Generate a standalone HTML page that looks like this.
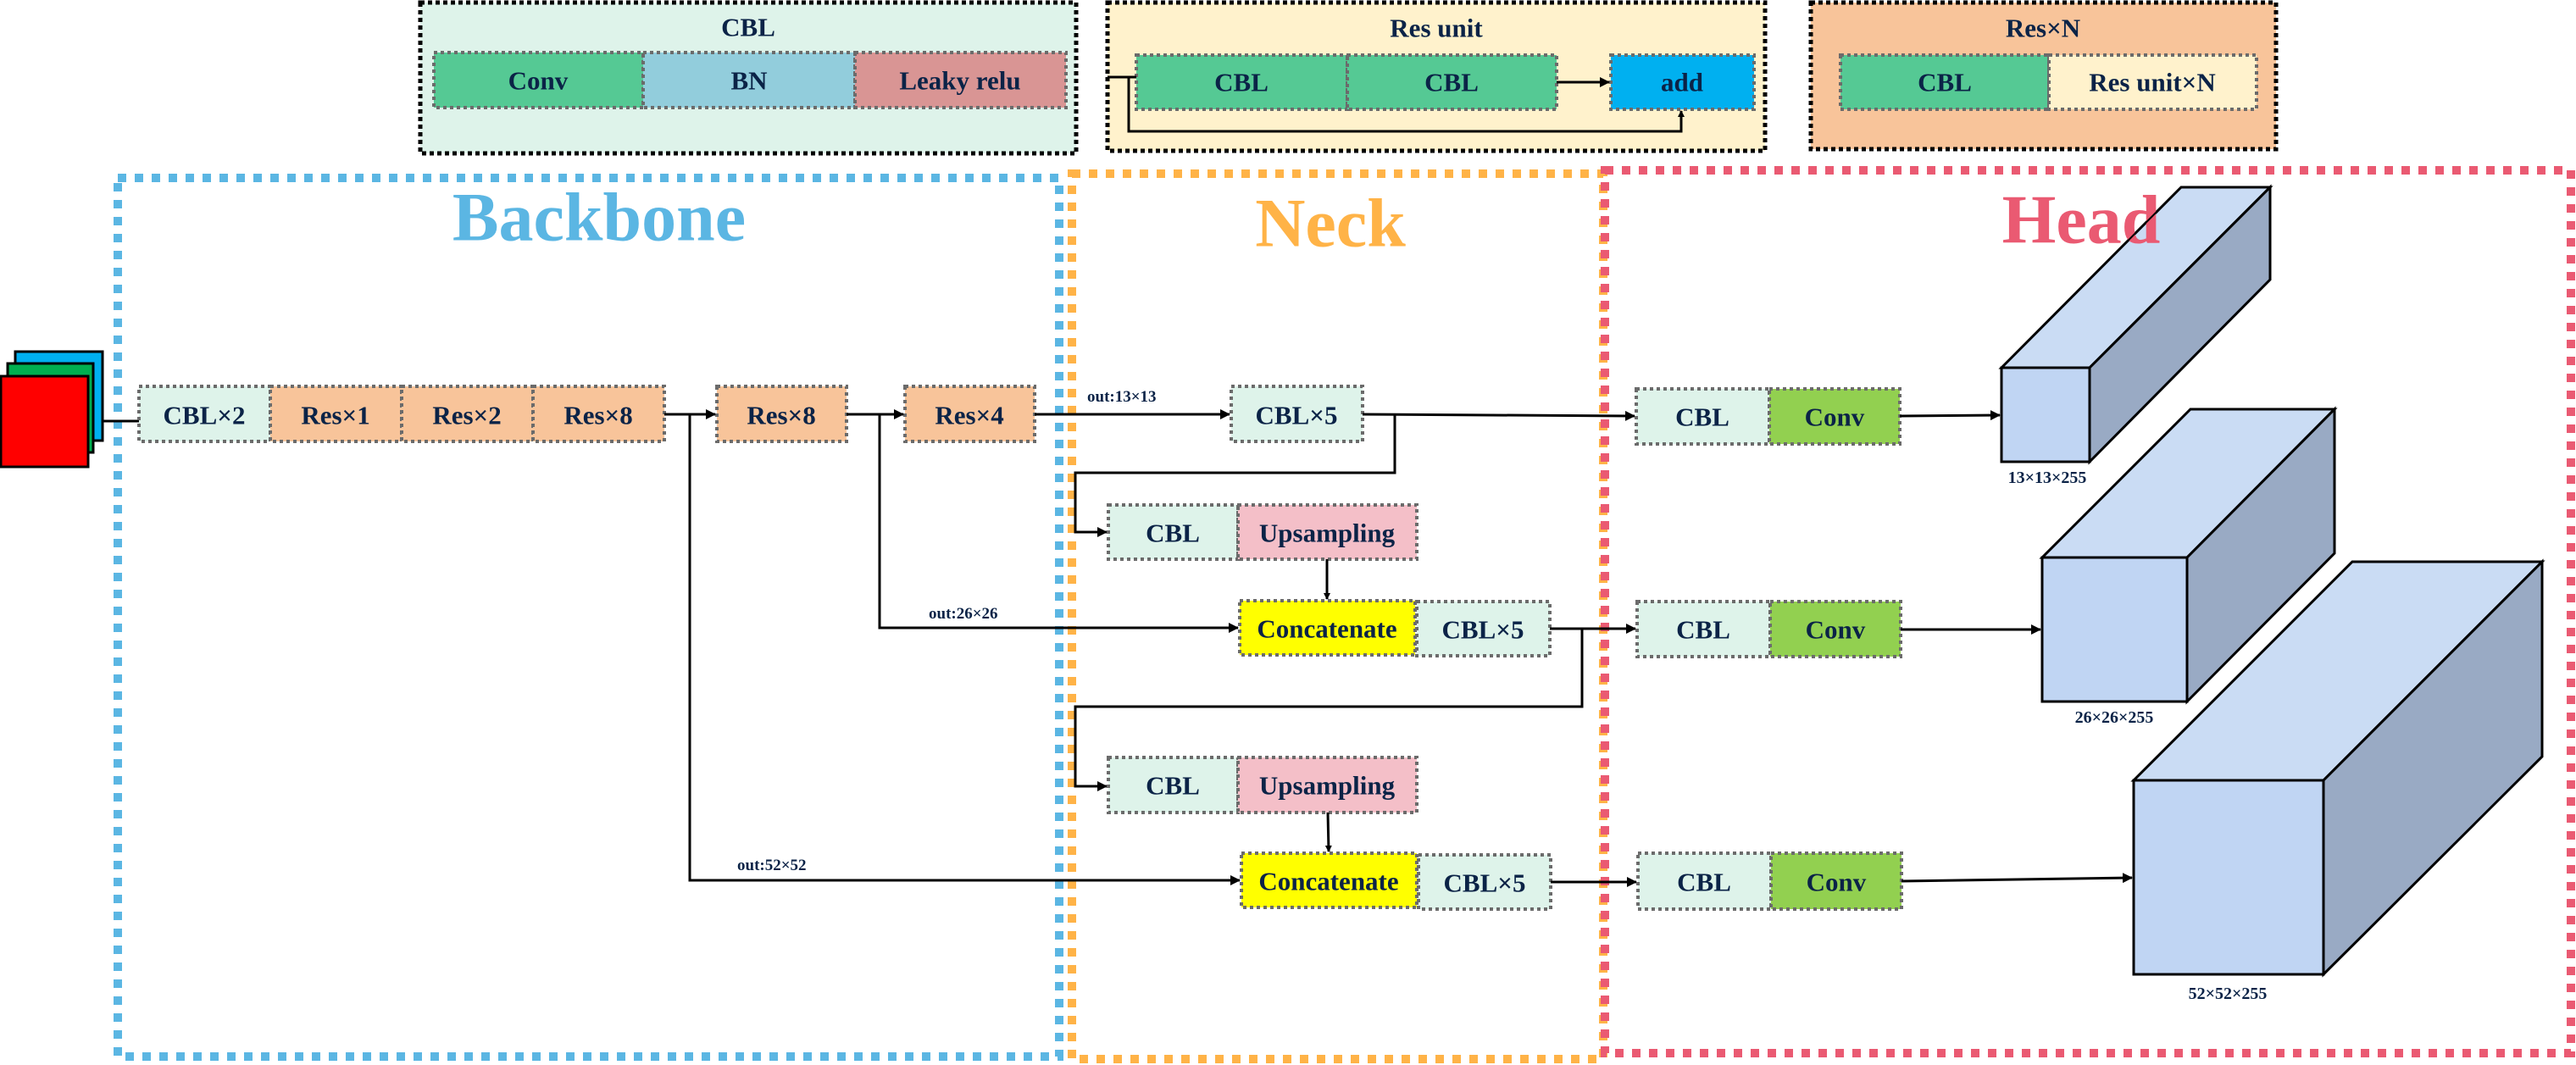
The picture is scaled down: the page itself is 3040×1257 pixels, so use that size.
<!DOCTYPE html>
<html><head><meta charset="utf-8"><style>html,body{margin:0;padding:0;background:#fff}svg{display:block}</style></head>
<body>
<svg xmlns="http://www.w3.org/2000/svg" width="3040" height="1257" viewBox="0 0 3040 1257" font-family="'Liberation Serif',serif" font-weight="bold">
<defs>
<marker id="a" markerWidth="8" markerHeight="8" refX="7" refY="4" orient="auto" markerUnits="userSpaceOnUse"><path d="M0,0 L8,4 L0,8 z" fill="#000"/></marker>
<marker id="b" markerWidth="12" markerHeight="12" refX="11" refY="6" orient="auto" markerUnits="userSpaceOnUse"><path d="M0,0 L12,6 L0,12 z" fill="#000"/></marker>
</defs>
<style>
.bx{stroke:#6b6b6b;stroke-width:4;stroke-dasharray:4 4}
.t{fill:#0b2347;text-anchor:middle;dominant-baseline:central;font-size:31px}
.s{fill:#0b2347;font-size:19px}
.ln{stroke:#000;stroke-width:3;fill:none}
.lg{stroke:#000;stroke-width:5;stroke-dasharray:5 4}
</style>

<rect x="496" y="3" width="774" height="178" fill="#def3ea" class="lg"/>
<text x="883" y="32" class="t">CBL</text>
<rect x="512" y="62" width="247" height="65" fill="#55c994" class="bx"/><text x="635" y="95" class="t">Conv</text>
<rect x="759" y="62" width="250" height="65" fill="#92cddc" class="bx"/><text x="884" y="95" class="t">BN</text>
<rect x="1009" y="62" width="249" height="65" fill="#d99594" class="bx"/><text x="1133" y="95" class="t">Leaky relu</text>

<rect x="1307" y="3" width="776" height="175" fill="#fff2cc" class="lg"/>
<text x="1695" y="33" class="t">Res unit</text>
<rect x="1341" y="65" width="249" height="64" fill="#55c994" class="bx"/><text x="1465" y="97" class="t">CBL</text>
<rect x="1590" y="65" width="247" height="64" fill="#55c994" class="bx"/><text x="1713" y="97" class="t">CBL</text>
<rect x="1901" y="65" width="169" height="64" fill="#00b0f0" class="bx"/><text x="1985" y="97" class="t">add</text>
<path d="M1307,91 H1341 M1332,91 V155 H1984 V131" class="ln" marker-end="url(#a)"/>
<path d="M1837,97 H1899" class="ln" stroke-width="4" marker-end="url(#b)"/>

<rect x="2137" y="3" width="549" height="173" fill="#f8c49a" class="lg"/>
<text x="2411" y="33" class="t">Res×N</text>
<rect x="2172" y="65" width="246" height="64" fill="#55c994" class="bx"/><text x="2295" y="97" class="t">CBL</text>
<rect x="2418" y="65" width="245" height="64" fill="#fff2cc" class="bx"/><text x="2540" y="97" class="t">Res unit×N</text>

<rect x="139" y="210" width="1111" height="1037" fill="none" stroke="#5bb6e3" stroke-width="10" stroke-dasharray="10 10"/>
<rect x="1265" y="205" width="627" height="1045" fill="none" stroke="#ffb347" stroke-width="10" stroke-dasharray="10 10"/>
<rect x="1894" y="201" width="1140" height="1042" fill="none" stroke="#ea5a72" stroke-width="10" stroke-dasharray="10 10"/>
<text x="707" y="256" class="t" style="font-size:82px;fill:#5bb6e3">Backbone</text>
<text x="1570" y="263" class="t" style="font-size:82px;fill:#ffb347">Neck</text>

<rect x="18" y="415" width="103" height="105" fill="#00b0f0" stroke="#000" stroke-width="3"/>
<rect x="9" y="429" width="101" height="105" fill="#00b050" stroke="#000" stroke-width="3"/>
<rect x="1" y="444" width="103" height="107" fill="#ff0000" stroke="#000" stroke-width="3"/>
<path d="M121,497 H164" class="ln" stroke-width="4"/>

<rect x="164" y="456" width="155" height="65" fill="#def3ea" class="bx"/><text x="241" y="490" class="t">CBL×2</text>
<rect x="319" y="456" width="155" height="65" fill="#f8c49a" class="bx"/><text x="396" y="490" class="t">Res×1</text>
<rect x="474" y="456" width="155" height="65" fill="#f8c49a" class="bx"/><text x="551" y="490" class="t">Res×2</text>
<rect x="629" y="456" width="155" height="65" fill="#f8c49a" class="bx"/><text x="706" y="490" class="t">Res×8</text>
<rect x="846" y="456" width="153" height="65" fill="#f8c49a" class="bx"/><text x="922" y="490" class="t">Res×8</text>
<rect x="1068" y="456" width="153" height="65" fill="#f8c49a" class="bx"/><text x="1144" y="490" class="t">Res×4</text>
<path d="M784,489 H844" class="ln" stroke-width="4" marker-end="url(#b)"/>
<path d="M999,489 H1066" class="ln" stroke-width="4" marker-end="url(#b)"/>
<path d="M1221,489 H1451" class="ln" stroke-width="4" marker-end="url(#b)"/>
<text x="1283" y="474" class="s">out:13×13</text>

<rect x="1453" y="456" width="155" height="65" fill="#def3ea" class="bx"/><text x="1530" y="490" class="t">CBL×5</text>
<path d="M1608,489 L1929,491" class="ln" stroke-width="4" marker-end="url(#b)"/>
<path d="M1646,489 V558 H1269 V628 H1306" class="ln" stroke-width="4" marker-end="url(#b)"/>
<rect x="1308" y="596" width="153" height="64" fill="#def3ea" class="bx"/><text x="1384" y="629" class="t">CBL</text>
<rect x="1461" y="596" width="211" height="64" fill="#f4bfc8" class="bx"/><text x="1566" y="629" class="t">Upsampling</text>
<path d="M1566,660 V707" class="ln" marker-end="url(#a)"/>
<path d="M1038,489 V741 H1461" class="ln" stroke-width="4" marker-end="url(#b)"/>
<text x="1096" y="730" class="s">out:26×26</text>
<rect x="1463" y="709" width="207" height="64" fill="#ffff00" class="bx"/><text x="1566" y="742" class="t">Concatenate</text>
<rect x="1672" y="710" width="157" height="64" fill="#def3ea" class="bx"/><text x="1750" y="743" class="t">CBL×5</text>
<path d="M1829,742 H1930" class="ln" stroke-width="4" marker-end="url(#b)"/>
<path d="M1867,742 V834 H1269 V928 H1306" class="ln" stroke-width="4" marker-end="url(#b)"/>
<rect x="1308" y="894" width="153" height="65" fill="#def3ea" class="bx"/><text x="1384" y="927" class="t">CBL</text>
<rect x="1461" y="894" width="211" height="65" fill="#f4bfc8" class="bx"/><text x="1566" y="927" class="t">Upsampling</text>
<path d="M1567,959 L1568,1005" class="ln" marker-end="url(#a)"/>
<path d="M814,489 V1039 H1463" class="ln" stroke-width="4" marker-end="url(#b)"/>
<text x="870" y="1027" class="s">out:52×52</text>
<rect x="1465" y="1007" width="207" height="64" fill="#ffff00" class="bx"/><text x="1568" y="1040" class="t">Concatenate</text>
<rect x="1674" y="1009" width="156" height="64" fill="#def3ea" class="bx"/><text x="1752" y="1042" class="t">CBL×5</text>
<path d="M1830,1041 H1931" class="ln" stroke-width="4" marker-end="url(#b)"/>

<rect x="1931" y="459" width="157" height="65" fill="#def3ea" class="bx"/><text x="2009" y="492" class="t">CBL</text>
<rect x="2088" y="459" width="154" height="65" fill="#92d050" class="bx"/><text x="2165" y="492" class="t">Conv</text>
<rect x="1932" y="710" width="157" height="65" fill="#def3ea" class="bx"/><text x="2010" y="743" class="t">CBL</text>
<rect x="2089" y="710" width="154" height="65" fill="#92d050" class="bx"/><text x="2166" y="743" class="t">Conv</text>
<rect x="1933" y="1007" width="157" height="66" fill="#def3ea" class="bx"/><text x="2011" y="1041" class="t">CBL</text>
<rect x="2090" y="1007" width="154" height="66" fill="#92d050" class="bx"/><text x="2167" y="1041" class="t">Conv</text>
<path d="M2242,491 L2360,490" class="ln" stroke-width="4" marker-end="url(#b)"/>
<path d="M2243,743 H2408" class="ln" stroke-width="4" marker-end="url(#b)"/>
<path d="M2244,1040 L2516,1036" class="ln" stroke-width="3" marker-end="url(#b)"/>

<g stroke="#000" stroke-width="3" stroke-linejoin="miter">
<path d="M2362,434 L2574,221 H2679 L2466,434 z" fill="#cadcf4"/>
<path d="M2466,434 L2679,221 V330 L2466,545 z" fill="#99aac4"/>
<rect x="2362" y="434" width="104" height="111" fill="#c0d5f3"/>

<path d="M2410,658 L2585,483 H2755 L2581,658 z" fill="#cadcf4"/>
<path d="M2581,658 L2755,483 V653 L2581,828 z" fill="#99aac4"/>
<rect x="2410" y="658" width="171" height="170" fill="#c0d5f3"/>

<path d="M2518,921 L2776,663 H3000 L2742,921 z" fill="#cadcf4"/>
<path d="M2742,921 L3000,663 V893 L2742,1150 z" fill="#99aac4"/>
<rect x="2518" y="921" width="224" height="229" fill="#c0d5f3"/>
</g>
<text x="2456" y="259" class="t" style="font-size:82px;fill:#ea5a72">Head</text>
<path d="M2362,434 L2574,221" stroke="#000" stroke-width="2" fill="none"/>
<text x="2416" y="564" class="t" style="font-size:20px">13×13×255</text>
<text x="2495" y="847" class="t" style="font-size:20px">26×26×255</text>
<text x="2629" y="1173" class="t" style="font-size:20px">52×52×255</text>
</svg>
</body></html>
